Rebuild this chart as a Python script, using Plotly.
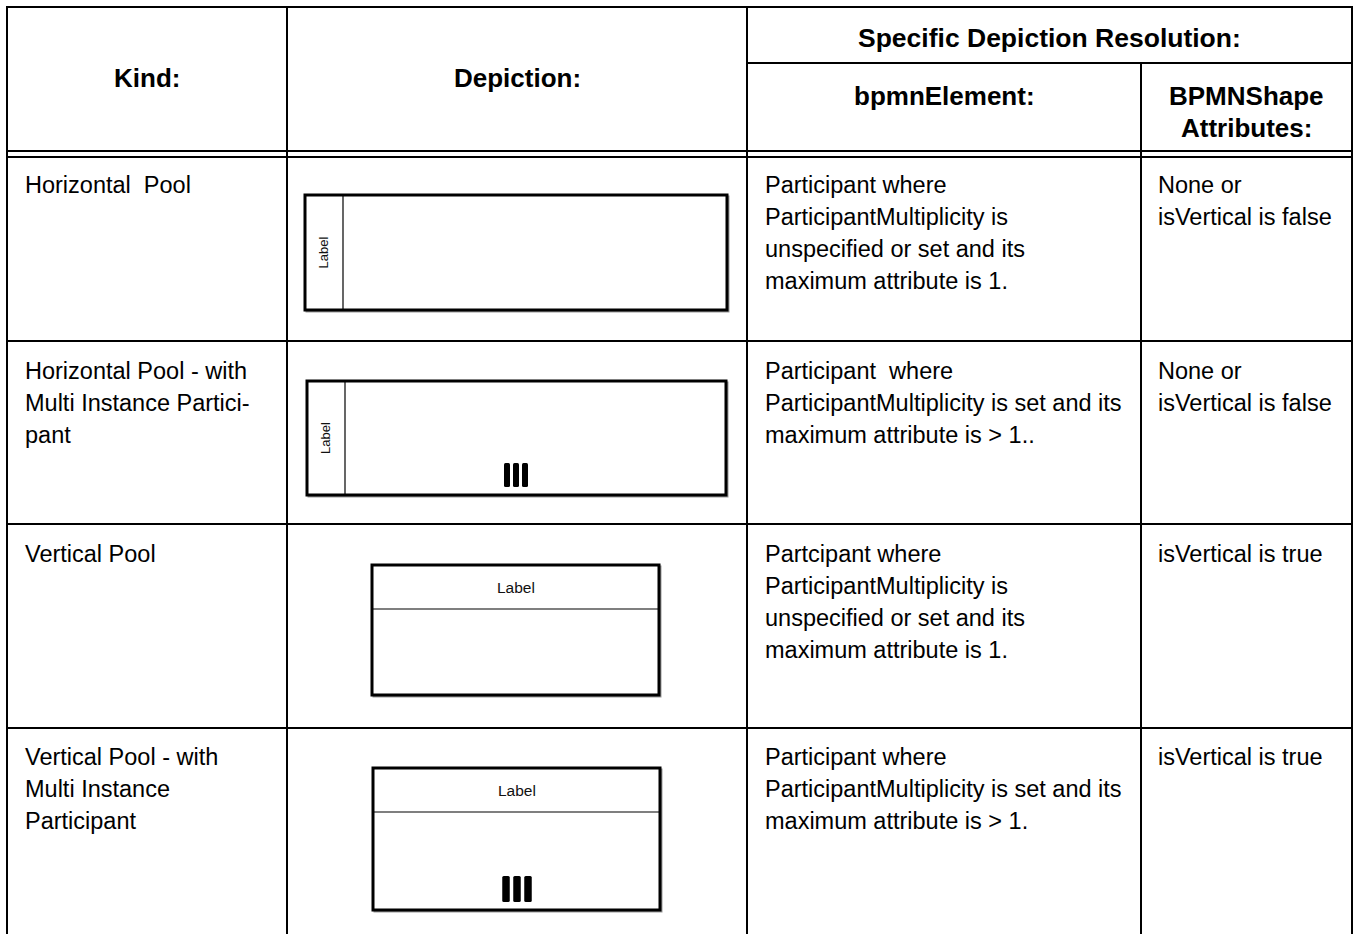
import plotly.graph_objects as go

W, H = 1356, 934
FONT = "Liberation Sans, Arial, sans-serif"

# ---- table content ----
header_kind = "Kind:"
header_depiction = "Depiction:"
header_specific = "Specific Depiction Resolution:"
header_element = "bpmnElement:"
header_attrs = ["BPMNShape", "Attributes:"]

kinds = [
    ["Horizontal  Pool"],
    ["Horizontal Pool - with", "Multi Instance Partici-", "pant"],
    ["Vertical Pool"],
    ["Vertical Pool - with", "Multi Instance", "Participant"],
]
bpmn_elements = [
    ["Participant where", "ParticipantMultiplicity is", "unspecified or set and its", "maximum attribute is 1."],
    ["Participant  where", "ParticipantMultiplicity is set and its", "maximum attribute is > 1.."],
    ["Partcipant where", "ParticipantMultiplicity is", "unspecified or set and its", "maximum attribute is 1."],
    ["Participant where", "ParticipantMultiplicity is set and its", "maximum attribute is > 1."],
]
shape_attrs = [
    ["None or", "isVertical is false"],
    ["None or", "isVertical is false"],
    ["isVertical is true"],
    ["isVertical is true"],
]
pool_vertical = [False, False, True, True]
pool_multi = [False, True, False, True]
pool_label = "Label"

# ---- layout geometry ----
col_x = [7, 287, 747, 1141, 1352]
text_x = [23, 763, 1156]
top_y = 7
sub_y = 63
dbl_y = [151, 157]
row_top = [157, 341, 524, 728]
row_bottom = [341, 524, 728, 934]
row_text_off = [28, 30, 30, 29]
LINE_H = 32
BODY = 23.5
HEAD = 26

# pool boxes: (x0, y0, x1, y1, band)
pool_boxes = [
    (305, 195, 727, 310, 343),
    (307, 381, 726, 495, 345),
    (372, 565, 659, 695, 609),
    (373, 768, 660, 910, 812),
]

shapes = []
def line(x0, y0, x1, y1, w=2, color="black"):
    shapes.append(dict(type="line", xref="x", yref="y", x0=x0, y0=y0, x1=x1, y1=y1,
                       line=dict(color=color, width=w)))

# table grid
line(col_x[0], top_y, col_x[-1], top_y)
line(col_x[0], top_y - 1, col_x[0], H)
line(col_x[-1], top_y - 1, col_x[-1], H)
line(col_x[1], top_y, col_x[1], H)
line(col_x[2], top_y, col_x[2], H)
line(col_x[3], sub_y, col_x[3], H)
line(col_x[2], sub_y, col_x[-1], sub_y)
for y in dbl_y:
    line(col_x[0], y, col_x[-1], y)
for y in row_bottom[:-1]:
    line(col_x[0], y, col_x[-1], y)

annotations = []
def text(x, y, s, size=BODY, bold=False, anchor="left", angle=0, color="black"):
    annotations.append(dict(x=x, y=y, xref="x", yref="y", text=f"<b>{s}</b>" if bold else s,
                            showarrow=False, xanchor=anchor, yanchor="middle", textangle=angle,
                            font=dict(family=FONT, size=size, color=color)))

# headers
text((col_x[0] + col_x[1]) / 2, 78, header_kind, HEAD, True, "center")
text((col_x[1] + col_x[2]) / 2, 78, header_depiction, HEAD, True, "center")
text((col_x[2] + col_x[4]) / 2, 38, header_specific, 26.5, True, "center")
text((col_x[2] + col_x[3]) / 2, 96, header_element, HEAD, True, "center")
for i, s in enumerate(header_attrs):
    text((col_x[3] + col_x[4]) / 2, 96 + i * LINE_H, s, HEAD, True, "center")

# body text
for r in range(4):
    y0 = row_top[r] + row_text_off[r]
    for i, s in enumerate(kinds[r]):
        text(text_x[0], y0 + i * LINE_H, s)
    for i, s in enumerate(bpmn_elements[r]):
        text(text_x[1], y0 + i * LINE_H, s)
    for i, s in enumerate(shape_attrs[r]):
        text(text_x[2], y0 + i * LINE_H, s)

# pools
for r in range(4):
    x0, y0, x1, y1, band = pool_boxes[r]
    shapes.append(dict(type="rect", xref="x", yref="y", x0=x0 + 1.5, y0=y0 + 1.5, x1=x1 + 1.5, y1=y1 + 1.5,
                       line=dict(color="#999999", width=2), fillcolor="rgba(0,0,0,0)"))
    shapes.append(dict(type="rect", xref="x", yref="y", x0=x0, y0=y0, x1=x1, y1=y1,
                       line=dict(color="black", width=3), fillcolor="white"))
    if pool_vertical[r]:
        line(x0, band, x1, band, w=1.2)
        text((x0 + x1) / 2, (y0 + band) / 2 + 0.5, pool_label, 15.5, False, "center", color="#111111")
    else:
        line(band, y0, band, y1, w=1.2)
        text((x0 + band) / 2 - 1, (y0 + y1) / 2, pool_label, 13, False, "center", angle=-90, color="#111111")
    if pool_multi[r]:
        if pool_vertical[r]:
            bw, gap, bh = 7.5, 3.5, 26
            cx = 517
        else:
            bw, gap, bh = 6, 3, 24
            cx = 516
        total = 3 * bw + 2 * gap
        start = cx - total / 2
        yb = y1 - 8
        rr = 1.5
        for k in range(3):
            bx = start + k * (bw + gap)
            a, b, c, d = bx, yb - bh, bx + bw, yb
            path = (f"M{a + rr},{b} L{c - rr},{b} Q{c},{b} {c},{b + rr} L{c},{d - rr} "
                    f"Q{c},{d} {c - rr},{d} L{a + rr},{d} Q{a},{d} {a},{d - rr} "
                    f"L{a},{b + rr} Q{a},{b} {a + rr},{b} Z")
            shapes.append(dict(type="path", xref="x", yref="y", path=path,
                               line=dict(color="black", width=0), fillcolor="black"))

fig = go.Figure()
fig.update_layout(
    width=W, height=H, margin=dict(l=0, r=0, t=0, b=0),
    paper_bgcolor="white", plot_bgcolor="white",
    xaxis=dict(range=[0, W], visible=False, fixedrange=True),
    yaxis=dict(range=[H, 0], visible=False, fixedrange=True),
    shapes=shapes, annotations=annotations, showlegend=False,
)
fig.write_html(
    "out.html",
    config={"displayModeBar": False},
    post_script="document.body.style.margin='0';document.body.style.overflow='hidden';",
)
